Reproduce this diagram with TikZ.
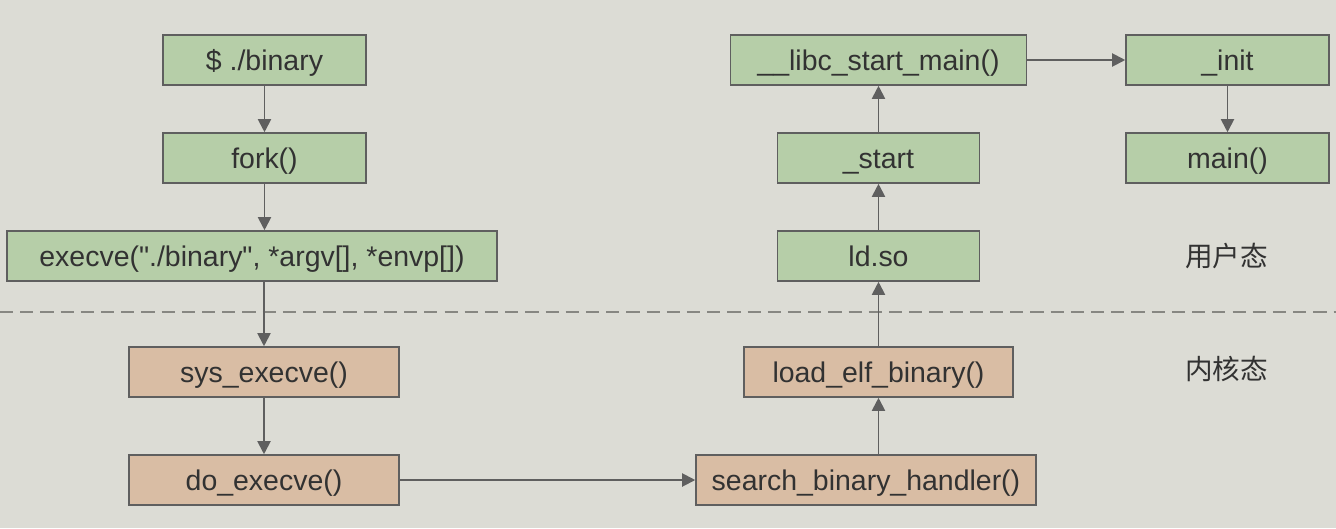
\documentclass[tikz,border=0pt]{standalone}
\usepackage{fontspec}
\setmainfont{Liberation Sans}
\newfontfamily\cjk{Noto Sans CJK SC}
\usepackage{tikz}
\usetikzlibrary{arrows.meta,positioning,calc}
\definecolor{bggray}{RGB}{220,220,213}
\definecolor{usergreen}{RGB}{182,206,168}
\definecolor{kerneltan}{RGB}{217,189,164}
\definecolor{edgegray}{RGB}{95,95,95}
\definecolor{txtgray}{RGB}{50,50,50}
\definecolor{dashgray}{RGB}{135,135,130}

\begin{document}
\begin{tikzpicture}[x=0.02cm, y=-0.02cm,
    box/.style={draw=edgegray, line width=0.9pt, minimum height=1cm, inner sep=0pt,
                text height=15pt, text depth=3pt,
                text=txtgray, font=\fontsize{16.2}{18}\selectfont},
    userbox/.style={box, fill=usergreen},
    kernbox/.style={box, fill=kerneltan},
    arr/.style={-{Triangle[length=7.5pt,width=7.5pt]}, edgegray, line width=1.1pt}]
        % Background
        \fill[bggray] (0,0) rectangle (1336,528);
        \useasboundingbox (0,0) rectangle (1336,528);
        % User space, left column
        \node[userbox, minimum width=4.06cm] (binary) at (264.5,60) {\$ ./binary};
        \node[userbox, minimum width=4.06cm] (fork) at (264.5,158) {fork()};
        \node[userbox, minimum width=9.8cm] (execve) at (252,256) {execve(\textquotedbl./binary\textquotedbl, *argv[], *envp[])};
        % Kernel space
        \node[kernbox, minimum width=5.4cm] (sysexecve) at (264,372) {sys\_execve()};
        \node[kernbox, minimum width=5.4cm] (doexecve) at (264,480) {do\_execve()};
        \node[kernbox, minimum width=6.8cm] (search) at (866,480) {search\_binary\_handler()};
        \node[kernbox, minimum width=5.38cm] (loadelf) at (878.5,372) {load\_elf\_binary()};
        % User space, right columns
        \node[userbox, minimum width=4.04cm] (ldso) at (878.5,256) {ld.so};
        \node[userbox, minimum width=4.04cm] (start) at (878.5,158) {\_start};
        \node[userbox, minimum width=5.92cm] (libc) at (878.5,60) {\_\_libc\_start\_main()};
        \node[userbox, minimum width=4.06cm] (init) at (1227.5,60) {\_init};
        \node[userbox, minimum width=4.06cm] (main) at (1227.5,158) {main()};
        % Mode labels
        \node[text=txtgray, font=\cjk\fontsize{15.7}{17}\selectfont] (userlbl) at (1226.5,256) {用户态};
        \node[text=txtgray, font=\cjk\fontsize{15.7}{17}\selectfont] (kernlbl) at (1226.5,369) {内核态};
        % Boundary
        \coordinate (lineL) at (0,312);
        \coordinate (lineR) at (1336,312);
        \draw[dashgray, line width=1.4pt, dash pattern=on 7.5pt off 4pt] (lineL) -- (lineR);
        % Arrows
        \draw[arr] (binary) -- (fork);
        \draw[arr] (fork) -- (fork |- execve.north);
        \draw[arr] (execve.south -| sysexecve) -- (sysexecve);
        \draw[arr] (sysexecve) -- (doexecve);
        \draw[arr] (doexecve) -- (search);
        \draw[arr] (search.north -| loadelf) -- (loadelf);
        \draw[arr] (loadelf) -- (ldso);
        \draw[arr] (ldso) -- (start);
        \draw[arr] (start) -- (libc);
        \draw[arr] (libc) -- (init);
        \draw[arr] (init) -- (main);
    \end{tikzpicture}
\end{document}
